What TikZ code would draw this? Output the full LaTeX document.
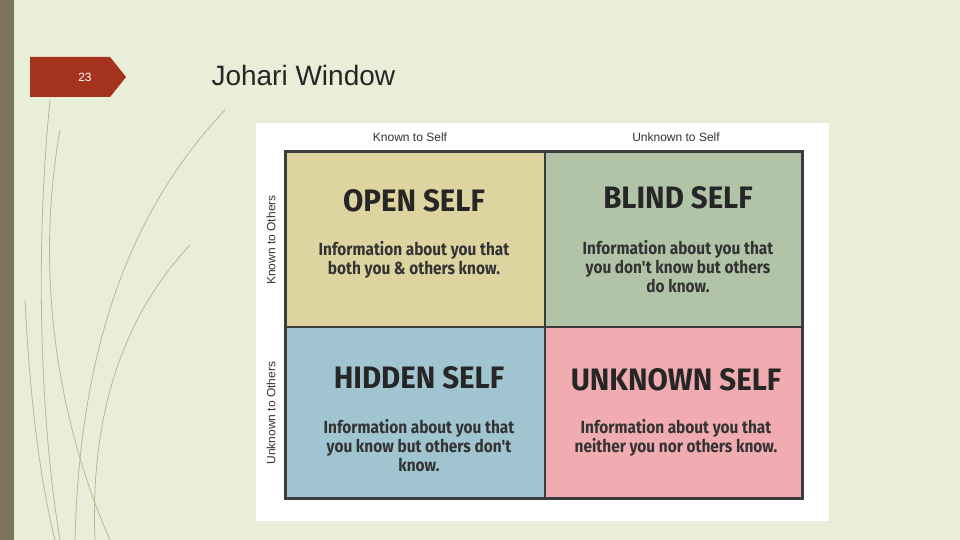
\documentclass[tikz,border=0pt]{standalone}
\usepackage{fontspec}
\setmainfont{Liberation Sans}
\newfontfamily\hand{Fira Sans}
\begin{document}
\begin{tikzpicture}[x=1pt,y=-1pt,
  ttl/.style={font=\hand\bfseries\fontsize{31}{33}\selectfont,text=black!85,xscale=0.95},
  body/.style={font=\hand\bfseries\fontsize{17.5}{19}\selectfont,align=center,text=black!80,xscale=0.88},
  hdr/.style={font=\fontsize{12}{14}\selectfont,text=black!80},
  deco/.style={draw=gray!60!olive!60,line width=0.8pt}]
\definecolor{bgc}{RGB}{232,238,215}
\definecolor{barc}{RGB}{125,115,88}
\definecolor{tagc}{RGB}{165,50,28}
\definecolor{openc}{RGB}{222,212,160}
\definecolor{blindc}{RGB}{178,196,168}
\definecolor{hidc}{RGB}{160,196,208}
\definecolor{unkc}{RGB}{240,172,176}
\definecolor{gridc}{RGB}{60,60,60}
\fill[bgc] (0,0) rectangle (960,540);
\useasboundingbox (0,0) rectangle (960,540);
\fill[barc] (0,0) rectangle (14,540);
\draw[deco] (50,100) .. controls (35,250) and (40,420) .. (60,540);
\draw[deco] (60,130) .. controls (30,300) and (70,450) .. (110,540);
\draw[deco] (225,110) .. controls (140,200) and (80,330) .. (75,540);
\draw[deco] (190,245) .. controls (120,320) and (90,420) .. (95,540);
\draw[deco] (25,300) .. controls (30,400) and (40,480) .. (55,540);
\fill[tagc] (30,57) -- (110,57) -- (126,77) -- (110,97) -- (30,97) -- cycle;
\node[text=white,font=\fontsize{12}{14}\selectfont] (num) at (85,77) {23};
\node[anchor=west,font=\fontsize{28}{32}\selectfont,text=black!85] (title) at (208,75) {Johari Window};
\fill[white] (256,123) rectangle (829,521);
\fill[openc] (285,152) rectangle (545,327);
\fill[blindc] (545,152) rectangle (802,327);
\fill[hidc] (285,327) rectangle (545,498);
\fill[unkc] (545,327) rectangle (802,498);
\draw[gridc,line width=3pt] (285,152) rectangle (802,498);
\draw[gridc,line width=2pt] (545,152) -- (545,498) (285,327) -- (802,327);
\node[hdr] (ks) at (410,137) {Known to Self};
\node[hdr] (us) at (676,137) {Unknown to Self};
\node[hdr,rotate=90] (ko) at (271,240) {Known to Others};
\node[hdr,rotate=90] (uo) at (271,413) {Unknown to Others};
\node[ttl] (t1) at (414,201) {OPEN SELF};
\node[body] (b1) at (414,260) {Information about you that\\both you \& others know.};
\node[ttl] (t2) at (678,198) {BLIND SELF};
\node[body] (b2) at (678,267) {Information about you that\\you don't know but others\\do know.};
\node[ttl] (t3) at (419,378) {HIDDEN SELF};
\node[body] (b3) at (419,446) {Information about you that\\you know but others don't\\know.};
\node[ttl] (t4) at (676,380) {UNKNOWN SELF};
\node[body] (b4) at (676,438) {Information about you that\\neither you nor others know.};
\end{tikzpicture}
\end{document}
